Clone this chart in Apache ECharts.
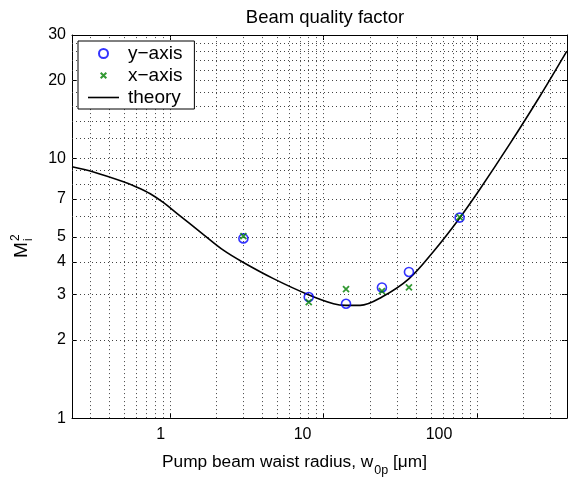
<!DOCTYPE html>
<html><head><meta charset="utf-8">
<script src="https://cdn.jsdelivr.net/npm/echarts@6/dist/echarts.min.js"></script>
<style>html,body{margin:0;padding:0;background:#fff}#c{width:568px;height:482px}</style>
</head><body><div id="c"></div>
<script>
// ---- data ----
const yAxisWaist = [3, 8, 14, 24, 36, 77];
const yAxisM2    = [4.93, 2.93, 2.76, 3.19, 3.66, 5.93];
const xAxisWaist = [3, 8, 14, 24, 36, 77];
const xAxisM2    = [5.03, 2.80, 3.14, 3.09, 3.19, 5.95];
const theoryWaist = [0.229, 0.316, 0.496, 0.607, 0.741, 0.905, 1.105, 1.648, 2.22, 2.98, 4.71, 7.96, 11.6, 13.95, 17.3, 24.0, 36.1, 51.7, 76.3, 104.6, 164, 257, 385];
const theoryM2    = [9.31, 8.89, 8.15, 7.77, 7.33, 6.77, 6.16, 5.10, 4.44, 3.99, 3.45, 2.99, 2.76, 2.72, 2.72, 2.93, 3.45, 4.37, 5.86, 7.64, 11.43, 17.42, 26.0];
const xTickValues = [1, 10, 100];
const yTickValues = [1, 2, 3, 4, 5, 7, 10, 20, 30];
const xGridValues = [0.3,0.4,0.5,0.6,0.7,0.8,0.9,1,2,3,4,5,6,7,8,9,10,20,30,40,50,60,70,80,90,100,200,300];
const yGridValues = [2,3,4,5,6,7,8,9,10,12,14,16,18,20,22,24,26,28];
const xRange = [0.229, 386];
const yRange = [1, 30];

const zip = (a, b) => a.map((v, i) => [v, b[i]]);
const FONT = 'Liberation Sans, Arial, Helvetica, sans-serif';
const gridStyle = { type: [1, 3], color: '#444', width: 1 };

const chart = echarts.init(document.getElementById('c'), null, { renderer: 'canvas' });

const axisBase = {
  type: 'log', logBase: 10,
  axisLine: { show: true, onZero: false, lineStyle: { color: '#000', width: 1 } },
  axisTick: { show: true, inside: true, length: 5, lineStyle: { color: '#000' } },
  splitLine: { show: false },
  minorTick: { show: false },
};

// the reference draws the bottom tick labels shifted left of their ticks
const xLabelRich = {
  t1:   { fontFamily: FONT, fontSize: 16, color: '#000', padding: [0, 19, 0, 0] },
  t10:  { fontFamily: FONT, fontSize: 16, color: '#000', padding: [0, 42, 0, 0] },
  t100: { fontFamily: FONT, fontSize: 16, color: '#000', padding: [0, 76, 0, 0] }
};

const option = {
  animation: false,
  backgroundColor: '#fff',
  title: {
    text: 'Beam quality factor', left: 320, top: 3, textAlign: 'center',
    textStyle: { fontFamily: FONT, fontSize: 18.5, fontWeight: 'normal', color: '#000' }
  },
  grid: { left: 72, right: 1, top: 35, bottom: 54, containLabel: false },
  legend: {
    orient: 'vertical', left: 78, top: 41,
    backgroundColor: '#fff', borderColor: '#000', borderWidth: 1,
    padding: [3, 12, 2, 10], itemGap: 3, itemWidth: 31, itemHeight: 9,
    textStyle: { fontFamily: FONT, fontSize: 19, color: '#000', padding: [0, 0, 0, 4] },
    data: [
      { name: 'y−axis', icon: 'circle' },
      { name: 'x−axis', icon: 'path://M-3,-3M0,0L10,10M10,0L0,10M13,13' },
      { name: 'theory', icon: 'path://M0,0H31V1.6H0Z', itemStyle: { color: '#000', borderWidth: 0 } }
    ]
  },
  xAxis: [
    Object.assign({}, axisBase, {
      position: 'bottom', min: xRange[0], max: xRange[1],
      name: '{a|Pump beam waist radius, w}{b|0p}{a| [μm]}',
      nameLocation: 'middle', nameGap: 20,
      nameTextStyle: { fontFamily: FONT, color: '#000', padding: [0, 50, 0, 0],
        rich: { a: { fontFamily: FONT, fontSize: 17.3, color: '#000' },
                b: { fontFamily: FONT, fontSize: 12.5, color: '#000', padding: [17, 0, 0, 1], lineHeight: 14 } } },
      axisTick: Object.assign({}, axisBase.axisTick, { customValues: xTickValues }),
      axisLabel: { show: true, customValues: xTickValues, margin: 8,
        fontFamily: FONT, fontSize: 16, color: '#000', rich: xLabelRich,
        formatter: v => { const s = String(+v.toPrecision(6)); return '{t' + s + '|' + s + '}'; } }
    }),
    Object.assign({}, axisBase, {
      position: 'top', min: xRange[0], max: xRange[1],
      axisTick: Object.assign({}, axisBase.axisTick, { customValues: xTickValues }),
      axisLabel: { show: false }
    })
  ],
  yAxis: [
    Object.assign({}, axisBase, {
      position: 'left', min: yRange[0], max: yRange[1],
      axisTick: Object.assign({}, axisBase.axisTick, { customValues: yTickValues }),
      axisLabel: { show: true, customValues: yTickValues, margin: 6,
        fontFamily: FONT, fontSize: 16, color: '#000', formatter: v => String(+v.toPrecision(6)) }
    }),
    Object.assign({}, axisBase, {
      position: 'right', min: yRange[0], max: yRange[1],
      axisTick: Object.assign({}, axisBase.axisTick, { customValues: yTickValues }),
      axisLabel: { show: false }
    })
  ],
  series: [
    {
      name: 'theory', type: 'line', xAxisIndex: 0, yAxisIndex: 0, z: 3,
      data: zip(theoryWaist, theoryM2), smooth: 0.35, symbol: 'none',
      lineStyle: { color: '#000', width: 1.6 }, itemStyle: { color: '#000' },
      markLine: {
        silent: true, symbol: 'none', z: 1, animation: false,
        label: { show: false },
        lineStyle: gridStyle,
        emphasis: { disabled: true },
        data: xGridValues.map(v => ({ xAxis: v })).concat(yGridValues.map(v => ({ yAxis: v })))
      }
    },
    {
      name: 'y−axis', type: 'scatter', xAxisIndex: 0, yAxisIndex: 0, z: 4,
      data: zip(yAxisWaist, yAxisM2), symbol: 'circle', symbolSize: 9,
      itemStyle: { color: 'rgba(0,0,0,0)', borderColor: '#0000ff', borderWidth: 1.6 }
    },
    {
      name: 'x−axis', type: 'scatter', xAxisIndex: 0, yAxisIndex: 0, z: 5,
      data: zip(xAxisWaist, xAxisM2), symbol: 'path://M0,0L10,10M10,0L0,10', symbolSize: 6,
      itemStyle: { color: 'rgba(0,0,0,0)', borderColor: '#008000', borderWidth: 1.8 }
    }
  ],
  graphic: [{
    type: 'group', x: 22, y: 258, rotation: Math.PI / 2,
    children: [
      { type: 'text', x: 0, y: 0, style: { text: 'M', font: '19px ' + FONT, fill: '#000', textVerticalAlign: 'middle', textAlign: 'left' } },
      { type: 'text', x: 17, y: -6, style: { text: '2', font: '12px ' + FONT, fill: '#000', textVerticalAlign: 'middle', textAlign: 'left' } },
      { type: 'text', x: 17, y: 7, style: { text: 'i', font: '12px ' + FONT, fill: '#000', textVerticalAlign: 'middle', textAlign: 'left' } }
    ]
  }]
};
chart.setOption(option);
</script></body></html>
